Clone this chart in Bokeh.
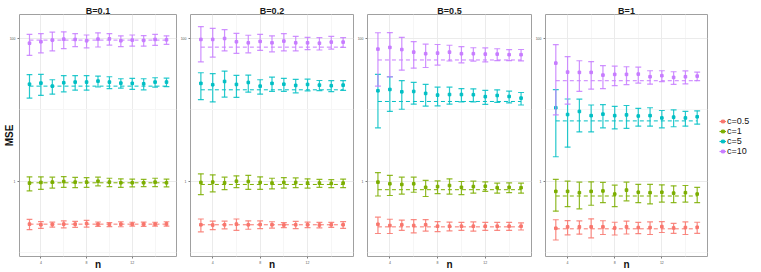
from bokeh.plotting import figure
from bokeh.models import Range1d, FixedTicker, Legend, LegendItem, ColumnDataSource
from bokeh.layouts import row
from bokeh.embed import file_html
from bokeh.resources import INLINE

# ---------------- data ----------------
n = list(range(3, 16))
c_labels = ["c=0.5", "c=1", "c=5", "c=10"]
B_labels = ["B=0.1", "B=0.2", "B=0.5", "B=1"]
colors = ["#F8766D", "#7CAE00", "#00BFC4", "#C77CFF"]

# B = 0.1
b01_c05_mean = [0.250, 0.245, 0.247, 0.250, 0.250, 0.255, 0.250, 0.247, 0.250, 0.250, 0.250, 0.250, 0.252]
b01_c05_sd = [0.041, 0.027, 0.020, 0.028, 0.024, 0.028, 0.018, 0.016, 0.020, 0.016, 0.017, 0.016, 0.018]
b01_c1_mean = [0.94, 0.96, 0.97, 0.99, 0.97, 0.97, 1.00, 0.97, 0.95, 0.95, 0.95, 0.97, 0.95]
b01_c1_sd = [0.21, 0.19, 0.17, 0.17, 0.16, 0.15, 0.14, 0.13, 0.13, 0.12, 0.11, 0.13, 0.12]
b01_c5_mean = [22.9, 23.7, 21.5, 24.0, 24.5, 24.5, 25.3, 24.5, 23.7, 23.5, 23.2, 24.5, 24.5]
b01_c5_sd = [8.3, 7.7, 4.9, 6.1, 5.6, 5.6, 4.4, 4.6, 3.6, 4.1, 4.1, 3.7, 3.3]
b01_c10_mean = [86, 90, 95, 98, 97, 93, 98, 99, 93, 95, 94, 97, 96]
b01_c10_sd = [28, 27, 28, 26, 20, 19, 22, 18, 16, 17, 16, 17, 13]
b01_ref = [0.25, 0.95, 21.5, 95]

# B = 0.2
b02_c05_mean = [0.245, 0.243, 0.245, 0.250, 0.245, 0.247, 0.245, 0.243, 0.245, 0.245, 0.243, 0.245, 0.245]
b02_c05_sd = [0.050, 0.033, 0.030, 0.045, 0.033, 0.030, 0.025, 0.020, 0.028, 0.022, 0.022, 0.020, 0.027]
b02_c1_mean = [0.96, 0.97, 0.95, 1.00, 0.99, 0.96, 0.94, 0.96, 0.96, 0.94, 0.94, 0.93, 0.94]
b02_c1_sd = [0.31, 0.26, 0.19, 0.19, 0.22, 0.19, 0.16, 0.16, 0.15, 0.14, 0.12, 0.12, 0.13]
b02_c5_mean = [23.5, 22.5, 25.0, 22.7, 24.2, 21.5, 23.5, 22.9, 22.0, 22.7, 22.2, 21.8, 22.2]
b02_c5_sd = [9.6, 9.6, 9.9, 7.7, 6.5, 4.9, 5.3, 4.7, 4.7, 4.2, 3.6, 3.8, 3.5]
b02_c10_mean = [97, 97, 100, 90, 87, 91, 87, 92, 87, 87, 86, 89, 89]
b02_c10_sd = [50, 42, 33, 28, 24, 23, 22, 25, 20, 17, 17, 18, 14]
b02_ref = [0.245, 0.90, 19.1, 75.7]

# B = 0.5
b05_c05_mean = [0.249, 0.239, 0.245, 0.239, 0.245, 0.234, 0.234, 0.234, 0.234, 0.234, 0.234, 0.234, 0.234]
b05_c05_sd = [0.064, 0.054, 0.040, 0.050, 0.045, 0.037, 0.033, 0.030, 0.035, 0.030, 0.030, 0.030, 0.027]
b05_c1_mean = [0.97, 0.92, 0.90, 0.92, 0.82, 0.84, 0.87, 0.82, 0.84, 0.85, 0.81, 0.82, 0.81]
b05_c1_sd = [0.35, 0.29, 0.24, 0.22, 0.21, 0.17, 0.21, 0.17, 0.16, 0.13, 0.13, 0.13, 0.13]
b05_c5_mean = [18.5, 19.3, 17.9, 18.1, 17.0, 16.1, 16.4, 16.4, 16.3, 15.3, 15.9, 15.4, 14.6]
b05_c5_sd = [12.9, 9.8, 7.7, 6.1, 5.7, 4.7, 4.4, 3.5, 3.4, 3.4, 3.2, 2.9, 2.9]
b05_c10_mean = [71, 75, 70, 64.4, 61.2, 62.4, 64.4, 61.2, 61.2, 60.4, 60.4, 59.3, 59.3]
b05_c10_sd = [49.5, 46, 34, 26, 22, 20, 16, 15.6, 13, 13.5, 11.5, 10.4, 10.8]
b05_ref = [0.229, 0.76, 13.1, 50]

# B = 1
b1_c05_mean = [0.219, 0.229, 0.229, 0.229, 0.229, 0.221, 0.229, 0.224, 0.224, 0.231, 0.221, 0.224, 0.226]
b1_c05_sd = [0.069, 0.052, 0.048, 0.068, 0.050, 0.045, 0.047, 0.040, 0.045, 0.040, 0.035, 0.045, 0.040]
b1_c1_mean = [0.72, 0.72, 0.69, 0.72, 0.73, 0.66, 0.75, 0.70, 0.69, 0.70, 0.68, 0.69, 0.66]
b1_c1_sd = [0.34, 0.28, 0.28, 0.26, 0.23, 0.22, 0.22, 0.20, 0.21, 0.19, 0.18, 0.18, 0.16]
b1_c5_mean = [10.7, 8.6, 9.5, 8.3, 8.7, 8.3, 8.5, 8.2, 8.3, 7.7, 7.9, 7.7, 8.0]
b1_c5_sd = [8.5, 5.6, 4.6, 3.4, 3.1, 2.9, 3.0, 2.3, 2.4, 2.1, 2.1, 1.8, 1.7]
b1_c10_mean = [45.2, 33.8, 33.5, 33.5, 30.7, 31.4, 31.4, 31.7, 29.1, 30.1, 28.5, 29.1, 29.7]
b1_c10_sd = [36.7, 21.8, 15.3, 14, 10.9, 9.6, 8.8, 8, 6.2, 5.2, 5.7, 6, 4.1]
b1_ref = [0.215, 0.62, 7.0, 25.6]

y_ticks = [1, 100]
y_tick_labels = ["1", "100"]
x_ticks = [4, 8, 12]

panels = [
    (B_labels[0], [(b01_c05_mean, b01_c05_sd), (b01_c1_mean, b01_c1_sd), (b01_c5_mean, b01_c5_sd), (b01_c10_mean, b01_c10_sd)], b01_ref),
    (B_labels[1], [(b02_c05_mean, b02_c05_sd), (b02_c1_mean, b02_c1_sd), (b02_c5_mean, b02_c5_sd), (b02_c10_mean, b02_c10_sd)], b02_ref),
    (B_labels[2], [(b05_c05_mean, b05_c05_sd), (b05_c1_mean, b05_c1_sd), (b05_c5_mean, b05_c5_sd), (b05_c10_mean, b05_c10_sd)], b05_ref),
    (B_labels[3], [(b1_c05_mean, b1_c05_sd), (b1_c1_mean, b1_c1_sd), (b1_c5_mean, b1_c5_sd), (b1_c10_mean, b1_c10_sd)], b1_ref),
]

FONT = "Liberation Sans"
HALF_CAP = 0.25
H = 272
widths = [177, 177, 178, 176]
left_borders = [18, 12, 12, 11]

figs = []
for i, (title, series, refs) in enumerate(panels):
    p = figure(width=widths[i], height=H, y_axis_type="log",
               x_range=Range1d(2.125, 15.875), y_range=Range1d(0.088, 217),
               output_backend="svg", toolbar_location=None, title=title,
               min_border_left=left_borders[i], min_border_right=1,
               min_border_top=14, min_border_bottom=15)
    p.background_fill_color = "white"
    p.border_fill_color = "white"
    p.outline_line_color = "#a0a0a0"
    p.outline_line_width = 1

    p.title.text_font = FONT
    p.title.text_font_size = "9px"
    p.title.text_font_style = "bold"
    p.title.text_color = "#1a1a1a"
    p.title.align = "center"
    p.title.standoff = -2
    p.title.offset = 0

    p.xaxis.ticker = FixedTicker(ticks=x_ticks, minor_ticks=[6, 10, 14])
    p.yaxis.ticker = FixedTicker(ticks=y_ticks, minor_ticks=[0.1, 10])
    p.yaxis.major_label_overrides = {t: s for t, s in zip(y_ticks, y_tick_labels)}
    for ax in (p.xaxis[0], p.yaxis[0]):
        ax.axis_line_color = None
        ax.major_tick_line_color = "#7f7f7f"
        ax.major_tick_out = 2
        ax.major_tick_in = 0
        ax.minor_tick_line_color = None
        ax.major_label_text_font = FONT
        ax.major_label_text_font_size = "3.5px"
        ax.major_label_text_color = "#555555"
        ax.major_label_standoff = 0
        ax.axis_label_text_font = FONT
        ax.axis_label_text_font_size = "10px"
        ax.axis_label_text_font_style = "bold"
        ax.axis_label_text_color = "#111111"
    p.xaxis.axis_label = "n"
    p.xaxis.axis_label_standoff = -8
    if i == 0:
        p.yaxis.axis_label = "MSE"
        p.yaxis.axis_label_standoff = -8

    for g in (p.xgrid[0], p.ygrid[0]):
        g.grid_line_color = "#ebebeb"
        g.grid_line_width = 1
        g.minor_grid_line_color = "#f6f6f6"
        g.minor_grid_line_width = 1

    for k, (mean, sd) in enumerate(series):
        col = colors[k]
        src = ColumnDataSource(dict(
            x=n, xl=[v - HALF_CAP for v in n], xr=[v + HALF_CAP for v in n],
            m=mean, lo=[a - b for a, b in zip(mean, sd)], hi=[a + b for a, b in zip(mean, sd)],
            ref=[refs[k]] * len(n)))
        p.line("x", "ref", source=src, line_color=col, line_dash="4 3", line_width=1)
        p.segment("x", "lo", "x", "hi", source=src, line_color=col, line_width=1.2, line_alpha=0.85)
        p.segment("xl", "hi", "xr", "hi", source=src, line_color=col, line_width=1.2, line_alpha=0.85)
        p.segment("xl", "lo", "xr", "lo", source=src, line_color=col, line_width=1.2, line_alpha=0.85)
        p.scatter("x", "m", source=src, marker="square", size=2.6, color=col)
    figs.append(p)

# legend in its own small figure (proxy renderers lie outside its visible range)
lp = figure(width=52, height=H, output_backend="svg", toolbar_location=None,
            x_range=Range1d(0, 1), y_range=Range1d(0, 1),
            min_border_left=0, min_border_right=0, min_border_top=0, min_border_bottom=0)
lp.axis.visible = False
lp.grid.visible = False
lp.outline_line_color = None
lp.background_fill_color = "white"
lp.border_fill_color = "white"
items = []
for k, lab in enumerate(c_labels):
    src = ColumnDataSource(dict(x=[-5.0], y=[-5.0]))
    seg = lp.segment("x", "y", "x", "y", source=src, line_color=colors[k], line_width=1.2)
    pt = lp.scatter("x", "y", source=src, marker="square", size=2.6, color=colors[k])
    items.append(LegendItem(label=lab, renderers=[seg, pt]))
leg = Legend(items=items, location=(11, 100))
leg.border_line_color = None
leg.background_fill_alpha = 0
leg.label_text_font = FONT
leg.label_text_font_size = "9px"
leg.label_text_color = "#111111"
leg.glyph_width = 7
leg.glyph_height = 10
leg.label_height = 10
leg.label_standoff = 1
leg.spacing = 0
leg.padding = 0
leg.margin = 0
lp.add_layout(leg)

layout = row(*figs, lp)
open("out.html", "w").write(file_html(layout, INLINE))
